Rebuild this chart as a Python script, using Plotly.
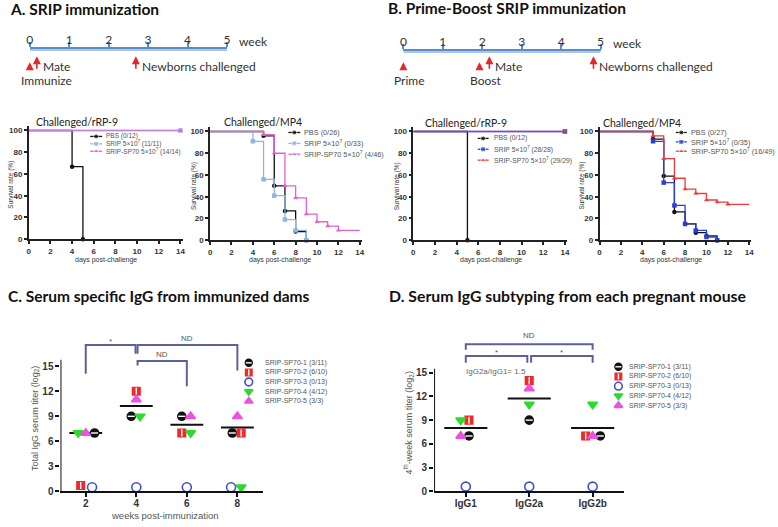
import plotly.graph_objects as go

W, H = 778, 527
def fx(p): return p / W
def fy(p): return 1 - p / H

# ---------------- data: timelines ----------------
week_ticks = [0, 1, 2, 3, 4, 5]
a_events = ["Immunize", "Mate", "Newborns challenged"]
a_event_weeks = [0.0, 0.18, 2.69]
a_event_place = ["below", "right", "right"]
b_events = ["Prime", "Boost", "Mate", "Newborns challenged"]
b_event_weeks = [0.0, 1.93, 2.18, 4.82]
b_event_place = ["below", "below", "right", "right"]

# ---------------- data: survival curves ----------------
km_x_ticks = [0, 2, 4, 6, 8, 10, 12, 14]
km_y_ticks = [0, 20, 40, 60, 80, 100]

a_rrp9_labels = ["PBS (0/12)", "SRIP 5×10<sup>7</sup> (11/11)", "SRIP-SP70 5×10<sup>7</sup> (14/14)"]
a_rrp9_pbs_days, a_rrp9_pbs_surv = [4, 5], [66.7, 0]
a_rrp9_srip_days, a_rrp9_srip_surv = [], []
a_rrp9_sp70_days, a_rrp9_sp70_surv = [], []

a_mp4_labels = ["PBS (0/26)", "SRIP 5×10<sup>7</sup> (0/33)", "SRIP-SP70 5×10<sup>7</sup> (4/46)"]
a_mp4_pbs_days, a_mp4_pbs_surv = [5, 6, 7, 8, 9], [96, 50, 27, 8, 0]
a_mp4_srip_days, a_mp4_srip_surv = [4, 5, 6, 7, 8, 9], [91, 56, 41, 19, 9, 0]
a_mp4_sp70_days, a_mp4_sp70_surv = [5, 6, 7, 8, 9, 10, 11, 12], [97, 80, 50, 39, 24, 17, 13, 9]

b_rrp9_labels = ["PBS (0/12)", "SRIP 5×10<sup>7</sup> (28/28)", "SRIP-SP70 5×10<sup>7</sup> (29/29)"]
b_rrp9_pbs_days, b_rrp9_pbs_surv = [5], [0]
b_rrp9_srip_days, b_rrp9_srip_surv = [], []
b_rrp9_sp70_days, b_rrp9_sp70_surv = [], []

b_mp4_labels = ["PBS (0/27)", "SRIP 5×10<sup>7</sup> (0/35)", "SRIP-SP70 5×10<sup>7</sup> (16/49)"]
b_mp4_pbs_days, b_mp4_pbs_surv = [5, 6, 7, 8, 9, 10, 11], [93, 59, 26, 15, 7, 4, 0]
b_mp4_srip_days, b_mp4_srip_surv = [5, 6, 7, 8, 9, 10, 11], [91, 53, 32, 15, 9, 3, 0]
b_mp4_sp70_days, b_mp4_sp70_surv = [5, 6, 7, 8, 9, 10, 11, 12], [96, 75, 57, 47, 43, 37, 35, 33]

# ---------------- data: IgG titers ----------------
mouse_labels = ["SRIP-SP70-1 (3/11)", "SRIP-SP70-2 (6/10)", "SRIP-SP70-3 (0/13)",
                "SRIP-SP70-4 (4/12)", "SRIP-SP70-5 (3/3)"]
c_weeks = [2, 4, 6, 8]
c_m1 = [7, 9, 9, 7]
c_m2 = [0.7, 12, 7, 7]
c_m3 = [0.5, 0.5, 0.5, 0.5]
c_m4 = [7, 9, 7, 0.5]
c_m5 = [7, 11, 9, 9]
c_jitter = [[0.35, -0.2, -0.2, -0.2], [-0.2, 0, -0.2, 0.15], [0.25, 0, 0, -0.25],
            [-0.3, 0.15, 0.15, 0.15], [0, 0, 0.15, 0]]

d_classes = ["IgG1", "IgG2a", "IgG2b"]
d_m1 = [7, 9, 7]
d_m2 = [9, 14, 7]
d_m3 = [0.6, 0.6, 0.6]
d_m4 = [9, 11, 11]
d_m5 = [7, 13, 7]
d_jitter = [[0.05, 0, 0.12], [0.05, 0, -0.11], [0, 0, 0], [-0.08, 0, 0], [-0.08, 0, 0]]

titer_ticks = [0, 3, 6, 9, 12, 15]

# brackets: (x_left, x_right, y_top, y_left_leg, y_right_leg, label)
c_brackets = [(2, 3.97, 17.55, 14.1, 16.5, "*"), (4.05, 8, 17.55, 16.5, 14.5, "ND"),
              (4.05, 6, 15.65, 15.1, 12.6, "ND")]
d_brackets = [(1, 3, 18.6, 17.9, 17.9, "ND"), (1, 1.97, 17.1, 16.25, 16.25, "*"),
              (2.03, 3, 17.1, 16.25, 16.25, "*")]

# ---------------- styling ----------------
CAL = "Lato"
ARI = "Arial"
TL_BLUE = "#5a8ec8"
ARROW_RED = "#e5262a"
BRK = "#5d6197"

fig = go.Figure()
layout = dict(width=W, height=H, margin=dict(l=0, r=0, t=0, b=0),
              paper_bgcolor="white", plot_bgcolor="rgba(0,0,0,0)",
              showlegend=False, annotations=[], shapes=[])
ann = layout["annotations"]
shp = layout["shapes"]

def text(x, y, t, size, color="#222", family=ARI, anchor="center", bold=False, angle=0, vanchor="middle"):
    ann.append(dict(x=fx(x), y=fy(y), xref="paper", yref="paper", text=t, showarrow=False,
                    xanchor=anchor, yanchor=vanchor, textangle=angle,
                    font=dict(family=family, size=size, color=color, weight=700 if bold else 400)))

# ---------------- panel titles ----------------
text(5, 9, "A. SRIP immunization", 15.5, "#111", CAL, "left", True)
text(386, 8, "B. Prime-Boost SRIP immunization", 15.5, "#111", CAL, "left", True)
text(3, 299, "C. Serum specific IgG from immunized dams", 15.5, "#111", CAL, "left", True)
text(387, 299, "D. Serum IgG subtyping from each pregnant mouse", 15.8, "#111", CAL, "left", True)

# ---------------- timelines ----------------
def timeline(n, x0, x5, yline, events, weeks, places):
    xa, ya = f"xaxis{n}", f"yaxis{n}"
    layout[xa] = dict(domain=[fx(x0), fx(x5)], range=[0, 5], anchor=f"y{n}", side="top",
                      showline=True, linecolor=TL_BLUE, linewidth=2, ticks="outside",
                      ticklen=5, tickwidth=1.5, tickcolor=TL_BLUE, tickvals=week_ticks,
                      ticklabelstandoff=-6,
                      showgrid=False, zeroline=False, fixedrange=True,
                      tickfont=dict(family=CAL, size=12, color="#333"))
    layout[ya] = dict(domain=[fy(yline + 6), fy(yline)], range=[0, 1], visible=False,
                      anchor=f"x{n}", fixedrange=True)
    fig.add_trace(go.Scatter(x=[0, 5], y=[1, 1], xaxis=f"x{n}", yaxis=f"y{n}", mode="lines",
                             line=dict(color=TL_BLUE, width=2), hoverinfo="skip"))
    ann.append(dict(x=5, y=fy(yline - 8), xref=f"x{n}", yref="paper", text="week", showarrow=False,
                    xanchor="left", yanchor="middle", xshift=10,
                    font=dict(family=CAL, size=12, color="#333")))
    for ev, wk, pl in zip(events, weeks, places):
        tip, tail = (63, 72) if pl == "below" else (57, 71)
        ann.append(dict(x=wk, y=fy(tip), xref=f"x{n}", yref="paper", text="", showarrow=True,
                        ax=0, ay=tail - tip, arrowhead=2, arrowsize=1, arrowwidth=1.6,
                        arrowcolor=ARROW_RED, standoff=0))
        if pl == "below":
            ann.append(dict(x=wk, y=fy(81), xref=f"x{n}", yref="paper", text=ev, showarrow=False,
                            xanchor="left", yanchor="middle", xshift=-11,
                            font=dict(family=CAL, size=12, color="#333")))
        else:
            ann.append(dict(x=wk, y=fy(67), xref=f"x{n}", yref="paper", text=ev, showarrow=False,
                            xanchor="left", yanchor="middle", xshift=4,
                            font=dict(family=CAL, size=12, color="#333")))

timeline(7, 27, 226, 50, a_events, a_event_weeks, a_event_place)
timeline(8, 404, 603, 52, b_events, b_event_weeks, b_event_place)

# ---------------- overlay pixel axis (legends) ----------------
layout["xaxis9"] = dict(domain=[0, 1], range=[0, W], visible=False, fixedrange=True, anchor="y9")
layout["yaxis9"] = dict(domain=[0, 1], range=[H, 0], visible=False, fixedrange=True, anchor="x9")

# ---------------- survival panels ----------------
def km_xy(days, surv):
    xs, ys = [0] + list(days), [100] + list(surv)
    if ys[-1] > 0:
        xs.append(14); ys.append(ys[-1])
    return xs, ys

def km_panel(n, x0, x14, y0, y100, title, tpos, ytx, xtpos, series, labels, colors, symbols,
             lcolors, leg):
    ppx = (x14 - x0) / 14.0
    ppy = (y0 - y100) / 100.0
    layout[f"xaxis{n}"] = dict(domain=[fx(x0), fx(x0 + 14.2 * ppx)], range=[0, 14.2], anchor=f"y{n}",
                               showline=True, linecolor="#222", linewidth=1.5, ticks="outside",
                               ticklen=3, tickwidth=1.5, tickcolor="#222", tickvals=km_x_ticks,
                               showgrid=False, zeroline=False, fixedrange=True,
                               tickfont=dict(family=ARI, size=8, color="#333", weight=700))
    layout[f"yaxis{n}"] = dict(domain=[fy(y0), fy(y0 - 104 * ppy)], range=[0, 104], anchor=f"x{n}",
                               showline=True, linecolor="#222", linewidth=1.5, ticks="outside",
                               ticklen=3, tickwidth=1.5, tickcolor="#222", tickvals=km_y_ticks,
                               showgrid=False, zeroline=False, fixedrange=True,
                               tickfont=dict(family=ARI, size=8, color="#333", weight=700))
    for (days, surv), col, sym, lcol in zip(series, colors, symbols, lcolors):
        xs, ys = km_xy(days, surv)
        fig.add_trace(go.Scatter(x=xs, y=ys, xaxis=f"x{n}", yaxis=f"y{n}", mode="lines",
                                 line=dict(color=lcol, width=1.3, shape="hv"), hoverinfo="skip"))
        mx, my = xs[1:], ys[1:]
        if my and my[-1] < 100 and my[-1] > 0:
            mx, my = mx[:-1], my[:-1]
        fig.add_trace(go.Scatter(x=mx, y=my, xaxis=f"x{n}", yaxis=f"y{n}", mode="markers",
                                 marker=dict(color=col, symbol=sym, size=4.5), cliponaxis=False,
                                 hoverinfo="skip"))
    text(tpos[0], tpos[1], title, 10.5, "#222", CAL)
    text(ytx, (y0 + y100) / 2, "Survival rate (%)", 6.5, "#333", ARI, angle=-90)
    text(xtpos[0], xtpos[1], "days post-challenge", 7, "#333", ARI)
    sx0, sx1, tx, rows, fs = leg
    for lab, col, sym, ry in zip(labels, colors, symbols, rows):
        fig.add_trace(go.Scatter(x=[sx0, (sx0 + sx1) / 2, sx1], y=[ry, ry, ry], xaxis="x9", yaxis="y9",
                                 mode="lines+markers", line=dict(color=col, width=1.3),
                                 marker=dict(color=col, symbol=sym, size=[0, 5, 0]), hoverinfo="skip"))
        text(tx, ry, lab, fs, "#555", ARI, "left")

A_SRIP, A_SP70 = "#8fb6de", "#e75fd2"
B_SRIP, B_SP70 = "#2b3fd2", "#f03a3a"
sym3 = ["circle", "square", "triangle-up"]

km_panel(1, 26, 179, 242, 132, "Challenged/rRP-9", (75, 123), 8, (104, 263),
         [(a_rrp9_pbs_days, a_rrp9_pbs_surv), (a_rrp9_srip_days, a_rrp9_srip_surv),
          (a_rrp9_sp70_days, a_rrp9_sp70_surv)], a_rrp9_labels,
         ["#111", A_SRIP, A_SP70], sym3, ["#111", A_SRIP, "rgba(214,110,220,0.75)"],
         (88, 100, 102, [138, 145.5, 153], 6.5))
km_panel(2, 209, 360, 243, 133, "Challenged/MP4", (262, 123), 193, (280, 263),
         [(a_mp4_pbs_days, a_mp4_pbs_surv), (a_mp4_srip_days, a_mp4_srip_surv),
          (a_mp4_sp70_days, a_mp4_sp70_surv)], a_mp4_labels,
         ["#111", A_SRIP, A_SP70], sym3, ["#111", A_SRIP, A_SP70],
         (288, 300, 302, [134, 145, 156], 7.3))
km_panel(3, 414, 567, 243, 133, "Challenged/rRP-9", (467, 124), 397, (492, 263),
         [(b_rrp9_pbs_days, b_rrp9_pbs_surv), (b_rrp9_srip_days, b_rrp9_srip_surv),
          (b_rrp9_sp70_days, b_rrp9_sp70_surv)], b_rrp9_labels,
         ["#111", B_SRIP, B_SP70], sym3, ["#111", B_SRIP, "rgba(200,60,200,0.6)"],
         (479, 490, 493, [140, 151, 162], 6.8))
km_panel(4, 602, 753, 243, 133, "Challenged/MP4", (645, 124), 584, (674, 263),
         [(b_mp4_pbs_days, b_mp4_pbs_surv), (b_mp4_srip_days, b_mp4_srip_surv),
          (b_mp4_sp70_days, b_mp4_sp70_surv)], b_mp4_labels,
         ["#111", B_SRIP, B_SP70], sym3, ["#111", B_SRIP, B_SP70],
         (679, 690, 692, [134, 143.5, 153], 7.3))

# ---------------- titer panels ----------------
mouse_styles = [
    dict(symbol="circle", color="#111111", size=8, stripe=("line-ew", 5)),
    dict(symbol="square", color="#ee2a2a", size=7.5, stripe=("line-ns", 5)),
    dict(symbol="circle-open", color="#3f51c9", size=9, stripe=None),
    dict(symbol="triangle-down", color="#2bdc2b", size=8.5, stripe=None),
    dict(symbol="triangle-up", color="#ee50e0", size=8.5, stripe=None),
]

def add_marks(xa, ya, xs, ys, st, size=None):
    s = size or st["size"]
    fig.add_trace(go.Scatter(x=xs, y=ys, xaxis=xa, yaxis=ya, mode="markers", cliponaxis=False,
                             marker=dict(symbol=st["symbol"], color=st["color"], size=s,
                                         line=dict(color=st["color"], width=1.6)),
                             hoverinfo="skip"))
    if st["stripe"]:
        sym, ss = st["stripe"]
        fig.add_trace(go.Scatter(x=xs, y=ys, xaxis=xa, yaxis=ya, mode="markers", cliponaxis=False,
                                 marker=dict(symbol=sym, size=ss * s / st["size"],
                                             line=dict(color="white", width=1.4)),
                                 hoverinfo="skip"))

def titer_panel(n, x0, x1, xr, ybot, ytop_px, yr, cats, ticklabels, values, jitter, half, axis_top,
                brackets, star_shift, nd_shift, legend):
    xa, ya = f"x{n}", f"y{n}"
    layout[f"xaxis{n}"] = dict(domain=[fx(x0), fx(x1)], range=xr, anchor=ya, showline=True,
                               linecolor="#111", linewidth=2, ticks="outside", ticklen=4, tickwidth=2,
                               tickcolor="#111", tickvals=cats, ticktext=ticklabels, showgrid=False,
                               zeroline=False, fixedrange=True, ticklabelstandoff=-2,
                               tickfont=dict(family=ARI, size=10, color="#333", weight=700))
    layout[f"yaxis{n}"] = dict(domain=[fy(ybot), fy(ytop_px)], range=yr, anchor=xa, showline=False,
                               ticks="outside", ticklen=4, tickwidth=2, tickcolor="#111",
                               tickvals=titer_ticks, showgrid=False, zeroline=False, fixedrange=True,
                               tickfont=dict(family=ARI, size=10, color="#333", weight=700))
    shp.append(dict(type="line", xref=xa, yref=ya, x0=xr[0], x1=xr[0], y0=0, y1=axis_top,
                    line=dict(color="#111", width=2)))
    # means of responders
    mx, my = [], []
    for j, c in enumerate(cats):
        resp = [v[j] for v in values if v[j] >= 1]
        m = sum(resp) / len(resp)
        mx += [c - half, c + half, None]
        my += [m, m, None]
    fig.add_trace(go.Scatter(x=mx, y=my, xaxis=xa, yaxis=ya, mode="lines",
                             line=dict(color="#111", width=2), hoverinfo="skip"))
    for v, jit, st in zip(values, jitter, mouse_styles):
        add_marks(xa, ya, [c + o for c, o in zip(cats, jit)], v, st)
    for (xl, xrr, yt, yl, yrl, lab) in brackets:
        shp.append(dict(type="path", xref=xa, yref=ya,
                        path=f"M {xl} {yl} L {xl} {yt} L {xrr} {yt} L {xrr} {yrl}",
                        line=dict(color=BRK, width=2)))
        ann.append(dict(x=(xl + xrr) / 2, y=yt, xref=xa, yref=ya, text=lab, showarrow=False,
                        xanchor="center", yanchor="bottom",
                        yshift=star_shift if lab == "*" else nd_shift,
                        font=dict(family=ARI, size=8, color="#555")))
    mkx, tx, r0, step = legend
    for i, (lab, st) in enumerate(zip(mouse_labels, mouse_styles)):
        ry = r0 + i * step
        add_marks("x9", "y9", [mkx], [ry], st, size=st["size"] * 0.85)
        text(tx, ry, lab, 7, "#555", ARI, "left")

titer_panel(5, 58, 262, [1, 9], 497, 341, [0, 18.5], c_weeks, [str(w) for w in c_weeks],
            [c_m1, c_m2, c_m3, c_m4, c_m5], c_jitter, 0.65, 15.8, c_brackets, -3, 0,
            (248, 262, 367, 9.7))
text(32, 423, "Total IgG serum titer (log<sub>2</sub>)", 9, "#555", ARI, angle=-90)
text(163, 521, "weeks post-immunization", 9.5, "#555", ARI)

titer_panel(6, 435, 627, [0.5, 3.5], 497, 341, [0, 19.5], [1, 2, 3], d_classes,
            [d_m1, d_m2, d_m3, d_m4, d_m5], d_jitter, 0.34, 15.5, d_brackets, -3, 2,
            (621, 630, 371, 9.8))
text(409, 428, "4<sup>th</sup>-week serum titer (log<sub>2</sub>)", 9, "#555", ARI, angle=-90)
ann.append(dict(x=1, y=15.1, xref="x6", yref="y6", text="IgG2a/IgG1= 1.5", showarrow=False,
                xanchor="left", yanchor="middle", xshift=-2,
                font=dict(family=ARI, size=8, color="#666")))

fig.update_layout(**layout)
fig.write_html("out.html", config={"displayModeBar": False},
               post_script="document.body.style.margin='0';document.body.style.overflow='hidden';")
